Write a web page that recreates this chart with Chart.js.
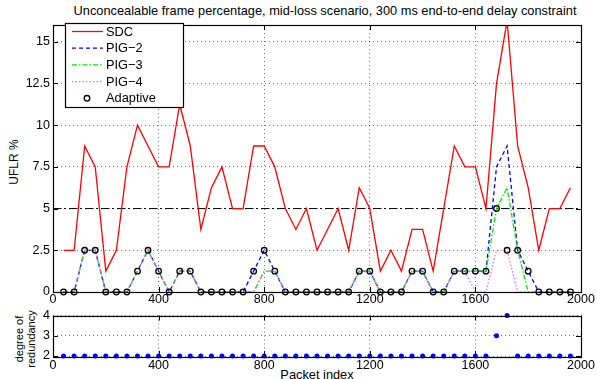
<!DOCTYPE html>
<html>
<head>
<meta charset="utf-8">
<title>UFLR chart</title>
<script src="https://cdn.jsdelivr.net/npm/chart.js@4.4.1/dist/chart.umd.min.js"></script>
<style>
    body { margin: 0; background: #fff; font-family: "Liberation Sans", Arial, sans-serif; }
    #wrap { position: relative; width: 597px; height: 379px; overflow: hidden; }
    canvas { position: absolute; left: 0; }
    .lbl { position: absolute; font-size: 12.8px; color: #000; white-space: nowrap; transform: translate(-50%, -50%); }
    .rot { transform: translate(-50%, -50%) rotate(-90deg); }
</style>
</head>
<body>
<div id="wrap">
    <div class="lbl" style="left:325px; top:10px;">Unconcealable frame percentage, mid-loss scenario, 300 ms end-to-end delay constraint</div>
    <div class="lbl rot" style="left:14px; top:162px; font-size:12px;">UFLR %</div>
    <div class="lbl rot" style="left:25px; top:339px; font-size:11px; line-height:11.5px; text-align:center;">degree of<br>redundancy</div>
    <div class="lbl" style="left:317px; top:374px;">Packet index</div>
    <canvas id="uflr-chart" width="597" height="305" style="top:0;"></canvas>
    <canvas id="redundancy-chart" width="597" height="74" style="top:305px;"></canvas>
</div>

<script>
// data, one value every 40 packets
const packets = [40, 80, 120, 160, 200, 240, 280, 320, 360, 400, 440, 480, 520, 560, 600, 640, 680, 720, 760, 800,
    840, 880, 920, 960, 1000, 1040, 1080, 1120, 1160, 1200, 1240, 1280, 1320, 1360, 1400, 1440, 1480, 1520, 1560, 1600,
    1640, 1680, 1720, 1760, 1800, 1840, 1880, 1920, 1960];

const sdc = [2.5, 2.5, 8.75, 7.5, 1.25, 2.5, 7.5, 10, 8.75, 7.5, 7.5, 11.25, 8.75, 3.75, 6.25, 7.5, 5, 5, 8.75, 8.75,
    7.5, 5, 3.75, 5, 2.5, 3.75, 5, 2.5, 6.25, 5, 1.25, 2.5, 1.25, 3.75, 3.75, 1.25, 5, 8.75, 7.5, 7.5,
    5, 12.5, 16.25, 8.75, 6.25, 2.5, 5, 5, 6.25];

const pig2 = [0, 0, 2.5, 2.5, 0, 0, 0, 1.25, 2.5, 1.25, 0, 1.25, 1.25, 0, 0, 0, 0, 0, 1.25, 2.5,
    1.25, 0, 0, 0, 0, 0, 0, 0, 1.25, 1.25, 0, 0, 0, 1.25, 1.25, 0, 0, 1.25, 1.25, 1.25,
    1.25, 7.5, 8.75, 2.5, 1.25, 0, 0, 0, 0];

const pig3 = [0, 0, 2.5, 2.5, 0, 0, 0, 1.25, 2.5, 1.25, 0, 1.25, 1.25, 0, 0, 0, 0, 0, 0, 1.25,
    1.25, 0, 0, 0, 0, 0, 0, 0, 1.25, 1.25, 0, 0, 0, 1.25, 1.25, 0, 0, 1.25, 1.25, 1.25,
    1.25, 5, 6.25, 2.5, 0, 0, 0, 0, 0];

const pig4 = [0, 0, 2.5, 2.5, 0, 0, 0, 1.25, 2.5, 1.25, 0, 1.25, 1.25, 0, 0, 0, 0, 0, 0, 1.25,
    1.25, 0, 0, 0, 0, 0, 0, 0, 1.25, 1.25, 0, 0, 0, 1.25, 1.25, 0, 0, 1.25, 1.25, 0,
    0, 2.5, 2.5, 0, 0, 0, 0, 0, 0];

const adaptive = [0, 0, 2.5, 2.5, 0, 0, 0, 1.25, 2.5, 1.25, 0, 1.25, 1.25, 0, 0, 0, 0, 0, 1.25, 2.5,
    1.25, 0, 0, 0, 0, 0, 0, 0, 1.25, 1.25, 0, 0, 0, 1.25, 1.25, 0, 0, 1.25, 1.25, 1.25,
    1.25, 5, 2.5, 2.5, 1.25, 0, 0, 0, 0];

const redundancy = [2, 2, 2, 2, 2, 2, 2, 2, 2, 2, 2, 2, 2, 2, 2, 2, 2, 2, 2, 2,
    2, 2, 2, 2, 2, 2, 2, 2, 2, 2, 2, 2, 2, 2, 2, 2, 2, 2, 2, 2,
    2, 3, 4, 2, 2, 2, 2, 2, 2];

const delayThreshold = 5;
const xRange = [0, 2000];
const xTicks = [0, 400, 800, 1200, 1600, 2000];
const uflrTicks = [0, 2.5, 5, 7.5, 10, 12.5, 15];
const uflrMax = 16;
const redundancyTicks = [2, 3, 4];

const toPoints = (ys) => packets.map((x, i) => ({ x: x, y: ys[i] }));

Chart.defaults.font.family = '"Liberation Sans", Arial, sans-serif';
Chart.defaults.font.size = 12.5;
Chart.defaults.color = '#000';

// box around the axes + inward ticks (matlab look)
const boxPlugin = {
    id: 'box',
    afterDraw(chart) {
        const ctx = chart.ctx;
        const a = chart.chartArea;
        const xs = chart.scales.x;
        const ys = chart.scales.y;
        ctx.save();
        ctx.strokeStyle = '#000';
        ctx.lineWidth = 1;
        ctx.setLineDash([]);
        ctx.beginPath();
        xs.ticks.forEach(t => {
            const px = Math.round(xs.getPixelForValue(t.value)) + 0.5;
            ctx.moveTo(px, a.bottom); ctx.lineTo(px, a.bottom - 5);
            ctx.moveTo(px, a.top); ctx.lineTo(px, a.top + 5);
        });
        ys.ticks.forEach(t => {
            const py = Math.round(ys.getPixelForValue(t.value)) + 0.5;
            ctx.moveTo(a.left, py); ctx.lineTo(a.left + 5, py);
            ctx.moveTo(a.right, py); ctx.lineTo(a.right - 5, py);
        });
        ctx.stroke();
        ctx.lineWidth = 1.2;
        ctx.strokeRect(Math.round(a.left) + 0.5, Math.round(a.top) + 0.5,
            Math.round(a.right - a.left), Math.round(a.bottom - a.top));
        ctx.restore();
    }
};

// legend box in the upper left corner of the top axes
const legendPlugin = {
    id: 'boxLegend',
    afterDraw(chart) {
        const ctx = chart.ctx;
        const a = chart.chartArea;
        const items = chart.data.datasets.filter(d => d.label);
        const left = a.left + 12, top = a.top - 2, w = 118, rowH = 16.7;
        ctx.save();
        ctx.fillStyle = '#fff';
        ctx.fillRect(left, top, w, items.length * rowH + 0.5);
        ctx.strokeStyle = '#000';
        ctx.lineWidth = 1.2;
        ctx.strokeRect(left + 0.5, top + 0.5, w, items.length * rowH + 0.5);
        ctx.font = '12.8px "Liberation Sans", Arial, sans-serif';
        ctx.textBaseline = 'middle';
        items.forEach((d, i) => {
            const y = top + 8.5 + i * rowH;
            if (d.showLine === false) {
                ctx.setLineDash([]);
                ctx.strokeStyle = d.borderColor;
                ctx.lineWidth = d.pointBorderWidth;
                ctx.beginPath();
                ctx.arc(left + 22, y, d.pointRadius, 0, Math.PI * 2);
                ctx.stroke();
            } else {
                ctx.setLineDash(d.borderDash || []);
                ctx.strokeStyle = d.borderColor;
                ctx.lineWidth = d.borderWidth;
                ctx.beginPath();
                ctx.moveTo(left + 7, y);
                ctx.lineTo(left + 38, y);
                ctx.stroke();
            }
            ctx.fillStyle = '#000';
            ctx.fillText(d.label, left + 41, y + 0.5);
        });
        ctx.restore();
    }
};

function gridStyle() {
    return { color: 'rgba(0,0,0,0.55)', lineWidth: 1, drawTicks: false };
}

const plainNumber = (v) => String(v);

// top chart: UFLR
new Chart(document.getElementById('uflr-chart').getContext('2d'), {
    type: 'line',
    data: {
        datasets: [
            { label: 'SDC', data: toPoints(sdc), borderColor: '#ff0000', borderWidth: 1.3, pointRadius: 0, order: 4 },
            { label: 'PIG\u22122', data: toPoints(pig2), borderColor: '#0000ff', borderWidth: 1.3, borderDash: [4, 3], pointRadius: 0, order: 3 },
            { label: 'PIG\u22123', data: toPoints(pig3), borderColor: '#00ee00', borderWidth: 1.3, borderDash: [5, 2, 1.5, 2], pointRadius: 0, order: 2 },
            { label: 'PIG\u22124', data: toPoints(pig4), borderColor: '#ee66ee', borderWidth: 1.3, borderDash: [1.5, 2], pointRadius: 0, order: 1 },
            { label: 'Adaptive', data: toPoints(adaptive), showLine: false, borderColor: '#000', backgroundColor: 'rgba(0,0,0,0)',
              pointRadius: 2.8, pointBorderWidth: 1.3, pointBackgroundColor: 'rgba(0,0,0,0)', order: 0, clip: false },
            { data: [{ x: xRange[0], y: delayThreshold }, { x: xRange[1], y: delayThreshold }],
              borderColor: '#000', borderWidth: 1, borderDash: [8, 3, 2, 3], pointRadius: 0, order: 5 }
        ]
    },
    options: {
        responsive: false,
        animation: false,
        layout: { padding: { left: 0, right: 16, top: 25, bottom: 0 } },
        plugins: { legend: { display: false }, tooltip: { enabled: false } },
        scales: {
            x: {
                type: 'linear', min: xRange[0], max: xRange[1],
                afterBuildTicks: (s) => { s.ticks = xTicks.map(v => ({ value: v })); },
                afterFit: (s) => { s.height = 13; },
                ticks: { padding: 0, maxRotation: 0, autoSkip: false, callback: plainNumber },
                grid: gridStyle(),
                border: { display: false, dash: [1, 3] }
            },
            y: {
                min: 0, max: uflrMax,
                afterBuildTicks: (s) => { s.ticks = uflrTicks.map(v => ({ value: v })); },
                afterFit: (s) => { s.width = 53; },
                ticks: { padding: 3, autoSkip: false, callback: plainNumber },
                grid: gridStyle(),
                border: { display: false, dash: [1, 3] }
            }
        }
    },
    plugins: [boxPlugin, legendPlugin]
});

// bottom chart: degree of redundancy used by the adaptive scheme
new Chart(document.getElementById('redundancy-chart').getContext('2d'), {
    type: 'line',
    data: {
        datasets: [
            { data: toPoints(redundancy), showLine: false, pointRadius: 2.5, pointBorderWidth: 0,
              pointBackgroundColor: '#0000ff', borderColor: '#0000ff', clip: false }
        ]
    },
    options: {
        responsive: false,
        animation: false,
        layout: { padding: { left: 0, right: 16, top: 8, bottom: 0 } },
        plugins: { legend: { display: false }, tooltip: { enabled: false } },
        scales: {
            x: {
                type: 'linear', min: xRange[0], max: xRange[1],
                afterBuildTicks: (s) => { s.ticks = xTicks.map(v => ({ value: v })); },
                afterFit: (s) => { s.height = 23; },
                ticks: { padding: 2, maxRotation: 0, autoSkip: false, callback: plainNumber },
                grid: gridStyle(),
                border: { display: false, dash: [1, 3] }
            },
            y: {
                min: 2, max: 4,
                afterBuildTicks: (s) => { s.ticks = redundancyTicks.map(v => ({ value: v })); },
                afterFit: (s) => { s.width = 53; },
                ticks: { padding: 3, autoSkip: false, callback: plainNumber },
                grid: gridStyle(),
                border: { display: false, dash: [1, 3] }
            }
        }
    },
    plugins: [boxPlugin]
});
</script>
</body>
</html>
